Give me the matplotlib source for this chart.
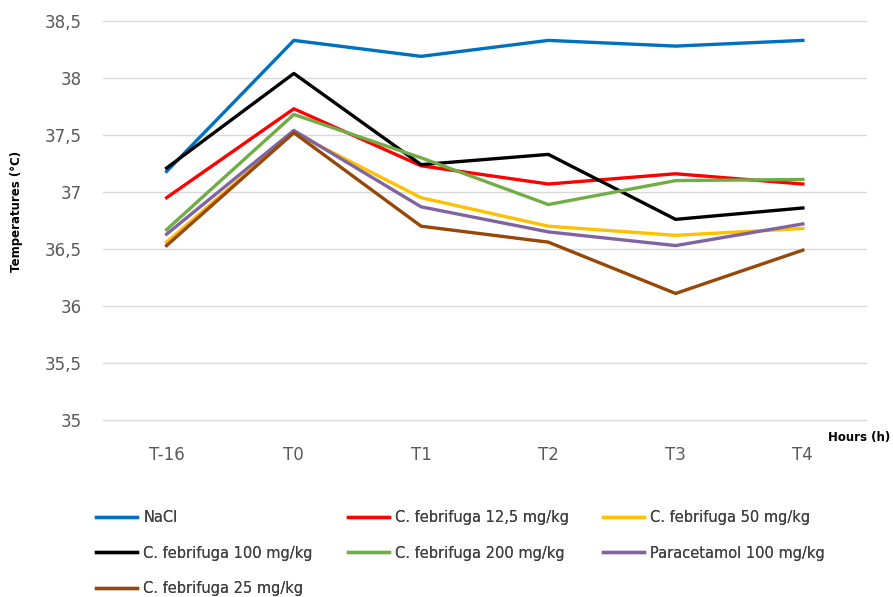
import matplotlib.pyplot as plt
from matplotlib.ticker import FuncFormatter

hours = ["T-16", "T0", "T1", "T2", "T3", "T4"]

nacl = [37.18, 38.33, 38.19, 38.33, 38.28, 38.33]
cf_12_5 = [36.95, 37.73, 37.23, 37.07, 37.16, 37.07]
cf_50 = [36.56, 37.52, 36.95, 36.70, 36.62, 36.68]
cf_100 = [37.21, 38.04, 37.24, 37.33, 36.76, 36.86]
cf_200 = [36.67, 37.68, 37.30, 36.89, 37.10, 37.11]
paracetamol = [36.63, 37.54, 36.87, 36.65, 36.53, 36.72]
cf_25 = [36.53, 37.52, 36.70, 36.56, 36.11, 36.49]

series = [
    ("NaCl", nacl, "#0070C0"),
    ("C. febrifuga 12,5 mg/kg", cf_12_5, "#FF0000"),
    ("C. febrifuga 50 mg/kg", cf_50, "#FFC000"),
    ("C. febrifuga 100 mg/kg", cf_100, "#000000"),
    ("C. febrifuga 200 mg/kg", cf_200, "#70AD47"),
    ("Paracetamol 100 mg/kg", paracetamol, "#8064A2"),
    ("C. febrifuga 25 mg/kg", cf_25, "#974706"),
]

plt.rcParams["font.family"] = ["DejaVu Sans"]

fig = plt.figure(figsize=(8.93, 5.97), dpi=100)
ax = fig.add_axes([0.1153, 0.2965, 0.855, 0.6683])

lines = {}
x = range(len(hours))
for name, vals, color in series:
    (ln,) = ax.plot(x, vals, color=color, lw=2.4, label=name)
    lines[name] = ln

ax.set_xlim(-0.5, len(hours) - 0.5)
ax.set_ylim(35, 38.5)
ax.set_yticks([35, 35.5, 36, 36.5, 37, 37.5, 38, 38.5])
ax.yaxis.set_major_formatter(
    FuncFormatter(lambda v, p: ("%g" % v).replace(".", ","))
)
ax.set_xticks(list(x))
ax.set_xticklabels(hours)
ax.grid(axis="y", color="#D9D9D9", lw=1)
for gl in ax.get_ygridlines():
    gl.set_clip_on(False)
ax.set_axisbelow(True)
for s in ax.spines.values():
    s.set_visible(False)
ax.tick_params(length=0, labelsize=12, labelcolor="#595959")
ax.tick_params(axis="x", pad=19)
ax.tick_params(axis="y", pad=15)

fig.text(0.018, 0.645, "Temperatures (°C)", rotation=90, fontsize=8.5,
         fontweight="bold", ha="center", va="center")
fig.text(0.997, 0.268, "Hours (h)", fontsize=8.5, fontweight="bold",
         ha="right", va="center")

# legend: three columns, filled row by row like the reference
columns = [
    ["NaCl", "C. febrifuga 100 mg/kg", "C. febrifuga 25 mg/kg"],
    ["C. febrifuga 12,5 mg/kg", "C. febrifuga 200 mg/kg"],
    ["C. febrifuga 50 mg/kg", "Paracetamol 100 mg/kg"],
]
col_x = [0.1075, 0.3897, 0.675]
for names, cx in zip(columns, col_x):
    leg = fig.legend(
        [lines[n] for n in names], names,
        loc="upper left", bbox_to_anchor=(cx, 0.145),
        frameon=False, fontsize=10.5, handlelength=2.8, handletextpad=0.45,
        labelspacing=1.38, borderpad=0, borderaxespad=0, labelcolor="#404040",
    )
    fig.add_artist(leg)

fig.savefig("out.png", dpi=100)
